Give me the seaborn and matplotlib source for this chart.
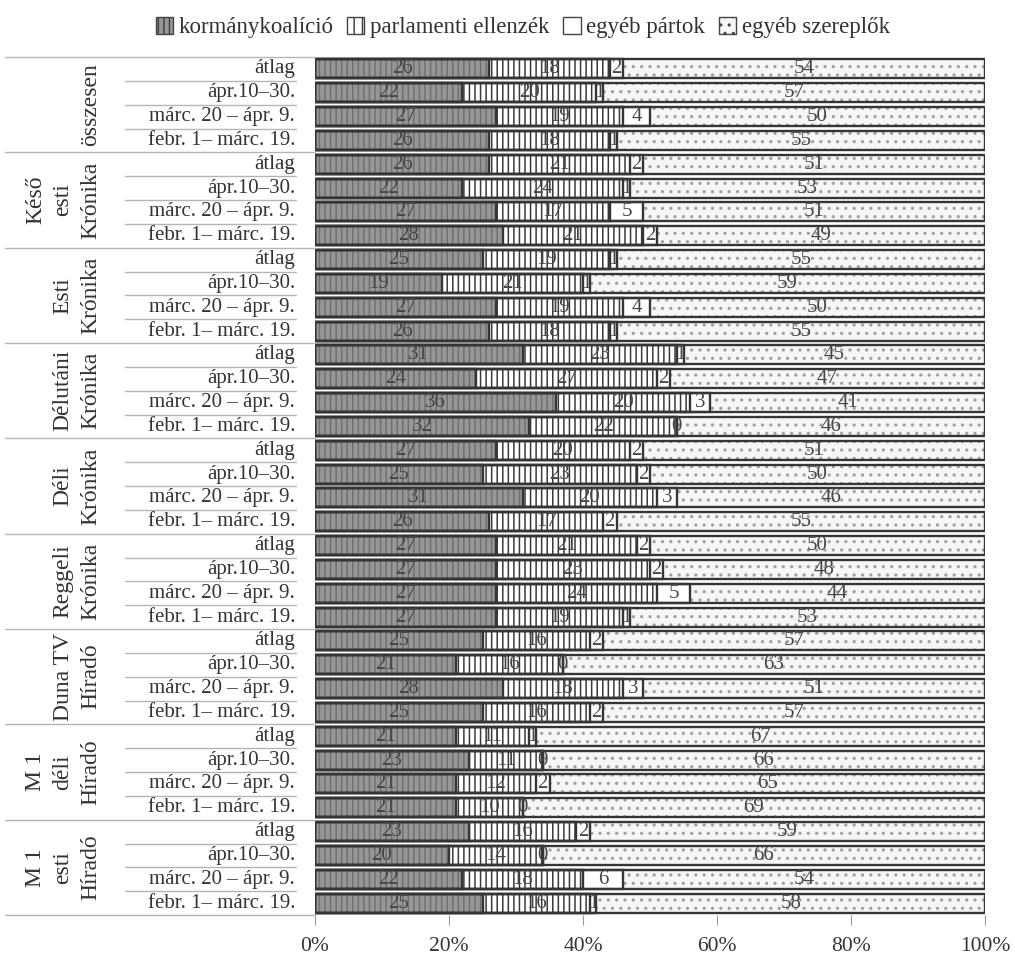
import matplotlib
matplotlib.use("Agg")
import numpy as np
import pandas as pd
import matplotlib.pyplot as plt
import seaborn as sns
from matplotlib.patches import Patch
from matplotlib.transforms import blended_transform_factory

# --- data -----------------------------------------------------------------
groups = ["összesen", "Késő\nesti\nKrónika", "Esti\nKrónika", "Délutáni\nKrónika",
          "Déli\nKrónika", "Reggeli\nKrónika", "Duna TV\nHíradó",
          "M 1\ndéli\nHíradó", "M 1\nesti\nHíradó"]
periods = ["átlag", "ápr.10–30.", "márc. 20 – ápr. 9.", "febr. 1– márc. 19."]

koalicio = [26, 22, 27, 26, 26, 22, 27, 28, 25, 19, 27, 26, 31, 24, 36, 32, 27, 25, 31, 26,
            27, 27, 27, 27, 25, 21, 28, 25, 21, 23, 21, 21, 23, 20, 22, 25]
ellenzek = [18, 20, 19, 18, 21, 24, 17, 21, 19, 21, 19, 18, 23, 27, 20, 22, 20, 23, 20, 17,
            21, 23, 24, 19, 16, 16, 18, 16, 11, 11, 12, 10, 16, 14, 18, 16]
partok = [2, 1, 4, 1, 2, 1, 5, 2, 1, 1, 4, 1, 1, 2, 3, 0, 2, 2, 3, 2,
          2, 2, 5, 1, 2, 0, 3, 2, 1, 0, 2, 0, 2, 0, 6, 1]
szereplok = [54, 57, 50, 55, 51, 53, 51, 49, 55, 59, 50, 55, 45, 47, 41, 46, 51, 50, 46, 55,
             50, 48, 44, 53, 57, 63, 51, 57, 67, 66, 65, 69, 59, 66, 54, 58]

series_names = ["kormánykoalíció", "parlamenti ellenzék", "egyéb pártok", "egyéb szereplők"]

# --- table ----------------------------------------------------------------
rows = [f"r{i:02d}" for i in range(len(groups) * len(periods))]
df = pd.DataFrame({
    "row": rows,
    "period": periods * len(groups),
    "koalicio": koalicio,
    "ellenzek": ellenzek,
    "partok": partok,
    "szereplok": szereplok,
})
vals = df[["koalicio", "ellenzek", "partok", "szereplok"]].to_numpy()
cums = vals.cumsum(axis=1)
for k, c in enumerate(["c1", "c2", "c3", "c4"]):
    df[c] = cums[:, k]

# face colour, hatch, hatch colour per series
styles = [("#979797", "|||", "#707070"),
          ("#ffffff", "|||", "#3a3a3a"),
          ("#ffffff", "", "#ffffff"),
          ("#f6f6f6", "..", "#a0a0a0")]

sns.set_style("white")
plt.rcParams["font.family"] = ["Liberation Serif", "DejaVu Serif"]
plt.rcParams["hatch.linewidth"] = 1.1

fig = plt.figure(figsize=(10.15, 9.6), dpi=100)
ax = fig.add_axes([315 / 1015, 1 - 915 / 960, 670 / 1015, 858 / 960])

# stacked bars drawn as overlapping cumulative bars, largest first
for col, (face, hatch, hcol) in zip(["c4", "c3", "c2", "c1"], styles[::-1]):
    sns.barplot(data=df, x=col, y="row", order=rows, orient="h", color=face,
                saturation=1, width=0.8, errorbar=None, hatch=hatch,
                edgecolor=hcol, linewidth=0, ax=ax)
for col in ["c4", "c3", "c2", "c1"]:
    sns.barplot(data=df, x=col, y="row", order=rows, orient="h", fill=False,
                color="#353535", width=0.8, errorbar=None,
                edgecolor="#353535", linewidth=1.7, ax=ax)

# value labels in the middle of each segment
for i in range(len(df)):
    left = 0
    for k in range(4):
        v = vals[i, k]
        ax.text(left + v / 2, i, str(v), ha="center", va="center",
                fontsize=15, color="#454545")
        left += v

ax.set_xlim(0, 100)
ax.set_ylim(len(rows) - 0.5, -0.5)
ax.set_xticks(range(0, 101, 20))
ax.set_xticklabels([f"{t}%" for t in range(0, 101, 20)])
ax.tick_params(axis="x", length=7, color="#999999", labelsize=15.5,
               labelcolor="#333333", pad=9, bottom=True)
ax.set_yticks([])
ax.set_xlabel("")
ax.set_ylabel("")
sns.despine(ax=ax, left=True, bottom=True)

# row labels, separator lines and rotated group labels
tr = blended_transform_factory(fig.transFigure, ax.transData)
for i, p in enumerate(df["period"]):
    ax.text(295 / 1015, i, p, transform=tr, ha="right", va="center",
            fontsize=15, color="#333333", clip_on=False)
    if i % 4 != 3:
        ax.plot([125 / 1015, 296 / 1015], [i + 0.5, i + 0.5], transform=tr,
                color="#b5b5b5", lw=1, clip_on=False)
for g, name in enumerate(groups):
    ax.plot([5 / 1015, 315 / 1015], [g * 4 - 0.5] * 2, transform=tr,
            color="#b5b5b5", lw=1, clip_on=False)
    ax.text(101 / 1015, g * 4 + 1.5, name, transform=tr, rotation=90,
            ha="right", va="center", multialignment="center", linespacing=1.4,
            fontsize=17, color="#333333", clip_on=False)
ax.plot([5 / 1015, 315 / 1015], [len(rows) - 0.5] * 2, transform=tr,
        color="#b5b5b5", lw=1, clip_on=False)

# legend
handles = [Patch(facecolor="#979797", edgecolor="#444444", hatch="|||", label=series_names[0]),
           Patch(facecolor="#ffffff", edgecolor="#444444", hatch="||", label=series_names[1]),
           Patch(facecolor="#ffffff", edgecolor="#444444", label=series_names[2]),
           Patch(facecolor="#f6f6f6", edgecolor="#444444", hatch="..", label=series_names[3])]
fig.legend(handles=handles, loc="upper center", bbox_to_anchor=(0.515, 1.004), ncol=4,
           frameon=False, fontsize=16.5, handlelength=0.75, handleheight=0.75,
           handletextpad=0.25, columnspacing=0.6, labelcolor="#333333")

fig.savefig("out.png", dpi=100)
plt.close(fig)
